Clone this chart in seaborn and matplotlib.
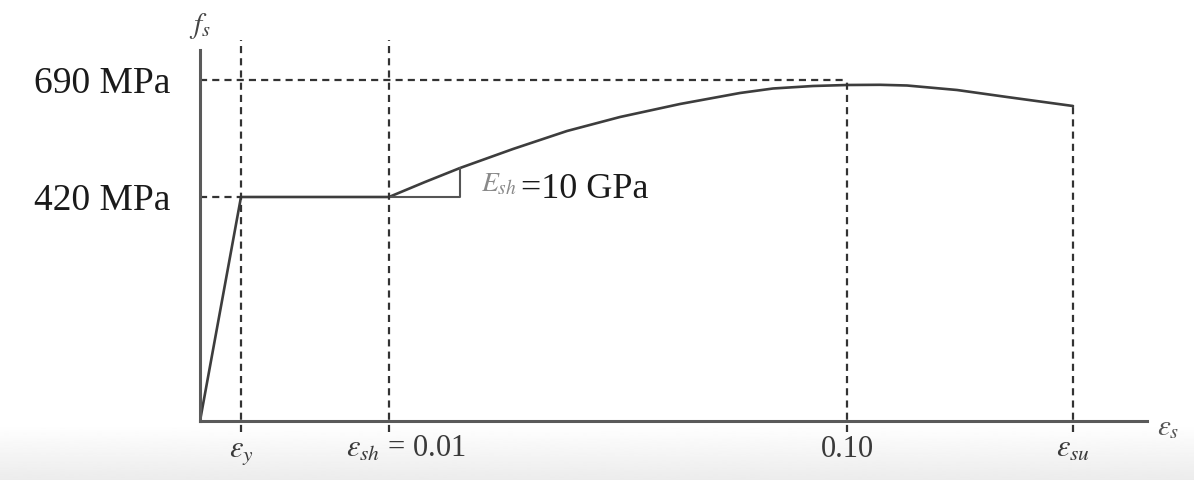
import numpy as np
import pandas as pd
import matplotlib
matplotlib.use("Agg")
import matplotlib.pyplot as plt
import seaborn as sns

# Schematic stress-strain diagram (not to scale); positions in diagram units
# elastic branch and yield plateau
path_x = [0.0, 0.41, 1.89]
path_y = [0.0, 2.24, 2.24]

# strain hardening branch, from eps_sh to eps_su
harden_x = [1.89, 2.25, 2.60, 3.13, 3.67, 4.20, 4.80, 5.40, 5.73, 6.13, 6.47,
            6.80, 7.07, 7.57, 8.07, 8.73]
harden_y = [2.24, 2.39, 2.53, 2.72, 2.90, 3.04, 3.17, 3.28, 3.325, 3.35, 3.36,
            3.362, 3.355, 3.31, 3.24, 3.15]

# guide lines
guide_x = [0.41, 1.89, 6.47, 8.73]
guide_top = [3.81, 3.81, 3.41, 3.15]
x_labels = [r"$\varepsilon_{y}$", r"$\varepsilon_{sh}$ = 0.01", "0.10", r"$\varepsilon_{su}$"]
x_label_shift = [0, 17, 0, 0]  # px

stress_levels = [2.24, 3.41]
stress_labels = ["420 MPa", "690 MPa"]
stress_ends = [0.41, 6.47]

# slope triangle at start of hardening
tri_x = [1.89, 2.60, 2.60]
tri_y = [2.24, 2.24, 2.53]

sns.set_theme(style="white")
plt.rcParams["font.family"] = ["Liberation Serif", "DejaVu Serif"]
plt.rcParams["mathtext.fontset"] = "stix"

fig = plt.figure(figsize=(11.94, 4.8), dpi=100)

# faint grey fade at the bottom, like the screenshot
bg = fig.add_axes([0, 0, 1, 56 / 480])
bg.imshow(np.linspace(1.0, 0.925, 64)[:, None], cmap="gray", vmin=0, vmax=1,
          aspect="auto", interpolation="bilinear")
bg.axis("off")

ax = fig.add_axes([200 / 1194, 59 / 480, 994 / 1194, 421 / 480])
ax.patch.set_alpha(0)
ax.set_xlim(0, 9.94)
ax.set_ylim(0, 4.21)

curve = pd.DataFrame({"x": path_x + harden_x[1:], "y": path_y + harden_y[1:]})
sns.lineplot(data=curve, x="x", y="y", sort=False, estimator=None,
             color="#3d3d3d", lw=1.9, ax=ax)
sns.lineplot(x=tri_x, y=tri_y, sort=False, estimator=None,
             color="#555555", lw=1.5, ax=ax)

dash = (0, (3.2, 2.3))
ax.vlines(guide_x, -0.11, guide_top, colors="#333333", linestyles=dash,
          lw=1.6, clip_on=False)
ax.hlines(stress_levels, 0, stress_ends, colors="#333333", linestyles=dash,
          lw=1.6, clip_on=False)

# axes as plain lines
for side in ["top", "right"]:
    ax.spines[side].set_visible(False)
ax.spines["left"].set_bounds(0, 3.71)
ax.spines["bottom"].set_bounds(0, 9.47)
for side in ["left", "bottom"]:
    ax.spines[side].set_color("#5a5a5a")
    ax.spines[side].set_linewidth(2.2)
    ax.spines[side].set_zorder(3)

ax.set_xticks([])
ax.set_yticks(stress_levels)
ax.set_yticklabels(stress_labels, fontsize=27, color="#1a1a1a")
ax.tick_params(axis="y", length=0, pad=21.5)
ax.set_xlabel("")
ax.set_ylabel("")

for xv, lab, dx in zip(guide_x, x_labels, x_label_shift):
    ax.annotate(lab, xy=(xv, -0.36), xytext=(dx * 0.72, 0), textcoords="offset points",
                ha="center", va="baseline", fontsize=22, color="#3a3a3a",
                annotation_clip=False)

ax.text(0, 3.95, r"$f_s$", ha="center", va="center", fontsize=21, color="#444444")
ax.text(9.57, -0.07, r"$\varepsilon_s$", ha="left", va="center", fontsize=21,
        color="#555555")

ax.text(2.81, 2.30, r"$E_{sh}$", ha="left", va="baseline", fontsize=20, color="#8a8a8a")
ax.text(3.21, 2.23, "=10 GPa", ha="left", va="baseline", fontsize=26, color="#1a1a1a")

fig.savefig("out.png", dpi=100)
